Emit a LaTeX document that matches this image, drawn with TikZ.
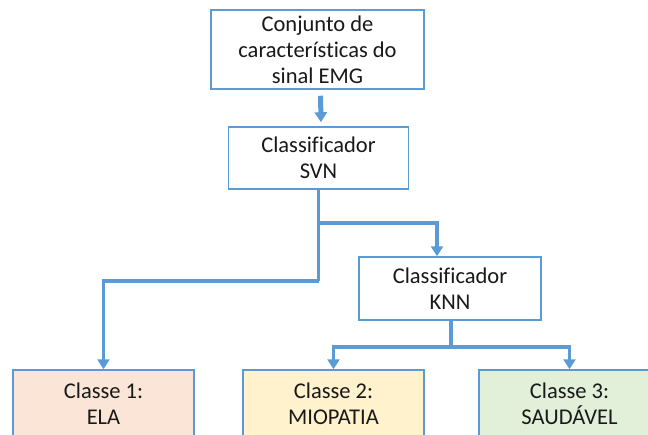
\documentclass[tikz,border=0pt]{standalone}
\usepackage{fontspec}
\setmainfont{Carlito}[Ligatures=NoCommon]
\usetikzlibrary{arrows.meta}
\definecolor{boxblue}{RGB}{91,155,213}
\definecolor{ela}{RGB}{251,229,214}
\definecolor{miopatia}{RGB}{255,242,204}
\definecolor{saudavel}{RGB}{226,240,217}
\tikzset{
    every node/.style={rectangle, draw=boxblue, line width=1.5pt, fill=white,
    	inner sep=0pt, align=center, text=black!90,
    	font=\fontsize{22.5}{26}\selectfont}
}
\tikzset{
    wire/.style={draw=boxblue, line width=3.5pt}
}
\tikzset{
	tip/.style={wire, -{Triangle[width=12pt,length=10pt]}}
}

\begin{document}
\begin{tikzpicture}[x=1pt, y=-1pt]
  \useasboundingbox (0,0) rectangle (648,434);

  \node (1) [minimum width=213pt, minimum height=79pt] at (317.5, 49.5)
    {Conjunto de\\caracter\'isticas do\\sinal EMG};
  \node (2) [minimum width=180pt, minimum height=62pt] at (318.5, 158)
    {Classificador\\SVN};
  \node (3) [minimum width=182pt, minimum height=63pt] at (450, 288.5)
    {Classificador\\KNN};

  \node (4) [fill=ela, minimum width=181pt, minimum height=68pt] at (103.5, 404)
    {Classe 1:\\ELA};
  \node (5) [fill=miopatia, minimum width=181pt, minimum height=68pt] at (333.5, 404)
    {Classe 2:\\MIOPATIA};
  \node (6) [fill=saudavel, minimum width=181pt, minimum height=68pt] at (569.5, 404)
    {Classe 3:\\SAUD\'AVEL};

  \coordinate (7) at (318.5, 223);
  \coordinate (7p) at (437, 223);
  \coordinate (8) at (318.5, 281);
  \coordinate (9) at (451, 347);

  \draw [tip, line width=5pt, shorten <=6pt, shorten >=4pt]
    ([xshift=3pt]1.south) -- ([xshift=2.5pt]2.north);
  \draw [wire] (2.south) -- (8);
  \draw [tip] (7) -- (7p) -- (7p |- 3.north);
  \draw [tip] (8) -| (4.north);
  \draw [wire] (3.south -| 9) -- (9);
  \draw [tip] (9) -| (5.north); \draw [tip] (9) -| (6.north);
\end{tikzpicture}
\end{document}
